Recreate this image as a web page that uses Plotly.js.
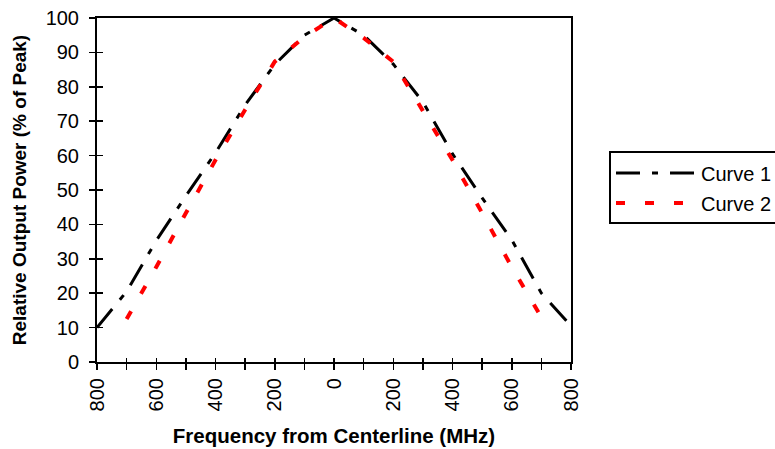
<!DOCTYPE html>
<html>
<head>
<meta charset="utf-8">
<script src="https://cdn.plot.ly/plotly-3.0.1.min.js"></script>
<style>
  html, body { margin: 0; padding: 0; background: #ffffff; }
  #chart { width: 775px; height: 449px; }
</style>
</head>
<body>
<div id="chart"></div>
<script>
// Frequency offsets from centerline (MHz), negative = below centerline
var freq1 = [-800, -700, -600, -500, -400, -300, -200, -100, 0, 100, 200, 300, 400, 500, 600, 700, 800];
var curve1 = [10, 20.5, 35.3, 48.3, 60.8, 74.7, 86.5, 95, 100, 95, 86.6, 75.6, 60.5, 47.7, 35.5, 20, 10.5];

var freq2 = [-700, -600, -500, -400, -300, -200, -100, 0, 100, 200, 300, 400, 500, 600, 700];
var curve2 = [12.5, 27.6, 43.3, 58.7, 73.3, 87.3, 94.5, 100, 94.2, 87.3, 73, 58.7, 43.3, 27.6, 13];

var xTickVals = [-800, -700, -600, -500, -400, -300, -200, -100, 0, 100, 200, 300, 400, 500, 600, 700, 800];
var xTickText = ['800', '', '600', '', '400', '', '200', '', '0', '', '200', '', '400', '', '600', '', '800'];
var yTickVals = [0, 10, 20, 30, 40, 50, 60, 70, 80, 90, 100];
var seriesNames = ['Curve 1', 'Curve 2'];

var FONT = 'Liberation Sans, Arial, sans-serif';

var traces = [
  {
    x: freq1, y: curve1, name: seriesNames[0], type: 'scatter', mode: 'lines',
    line: { color: '#000000', width: 3, dash: '24px,12px,6px,12px' },
    legendgroup: 'g1'
  },
  {
    x: freq2, y: curve2, name: seriesNames[1], type: 'scatter', mode: 'lines',
    line: { color: '#ff0000', width: 4, dash: '9px,20px' },
    legendgroup: 'g2'
  },
  {
    x: [], y: [], xaxis: 'x2', yaxis: 'y2', type: 'scatter', mode: 'lines',
    showlegend: false, hoverinfo: 'skip'
  }
];

var layout = {
  width: 775, height: 449,
  paper_bgcolor: '#ffffff', plot_bgcolor: '#ffffff',
  margin: { l: 97, r: 204, t: 18, b: 87, autoexpand: false },
  font: { family: FONT, color: '#000000', size: 20 },
  showlegend: true,
  legend: {
    x: 1.0802, xanchor: 'left', y: 0.612, yanchor: 'top',
    bordercolor: '#000000', borderwidth: 2, bgcolor: '#ffffff',
    font: { family: FONT, size: 20, color: '#000000' },
    itemwidth: 80, traceorder: 'grouped', tracegroupgap: 1
  },
  xaxis: {
    range: [-800, 800], autorange: false,
    tickmode: 'array', tickvals: xTickVals, ticktext: xTickText,
    tickangle: -90,
    ticks: 'outside', ticklen: 6, tickwidth: 1.5, tickcolor: '#000000',
    showline: true, linecolor: '#000000', linewidth: 2, mirror: true,
    showgrid: false, zeroline: false,
    tickfont: { family: FONT, size: 20, color: '#000000' },
    title: { text: '<b>Frequency from Centerline (MHz)</b>', font: { family: FONT, size: 20.5, color: '#000000' }, standoff: 18 }
  },
  yaxis: {
    range: [0, 100], autorange: false,
    tickmode: 'array', tickvals: yTickVals,
    ticks: 'outside', ticklen: 6, tickwidth: 1.5, tickcolor: '#000000',
    ticklabelstandoff: 6,
    showline: true, linecolor: '#000000', linewidth: 2, mirror: true,
    showgrid: false, zeroline: false,
    tickfont: { family: FONT, size: 20, color: '#000000' },
    title: { text: '<b>Relative Output Power (% of Peak)</b>', font: { family: FONT, size: 19, color: '#000000' }, standoff: 14 }
  },
  xaxis2: {
    overlaying: 'x', anchor: 'y', side: 'bottom',
    range: [-800, 800], autorange: false,
    tickmode: 'array', tickvals: xTickVals,
    ticks: 'inside', ticklen: 4, tickwidth: 1.5, tickcolor: '#000000',
    showticklabels: false, showline: false, showgrid: false, zeroline: false
  },
  yaxis2: {
    overlaying: 'y', anchor: 'x', side: 'left',
    range: [0, 100], autorange: false,
    tickmode: 'array', tickvals: yTickVals,
    ticks: 'inside', ticklen: 6, tickwidth: 1.5, tickcolor: '#000000',
    showticklabels: false, showline: false, showgrid: false, zeroline: false
  }
};

Plotly.newPlot('chart', traces, layout, { displayModeBar: false, staticPlot: true });
</script>
</body>
</html>
